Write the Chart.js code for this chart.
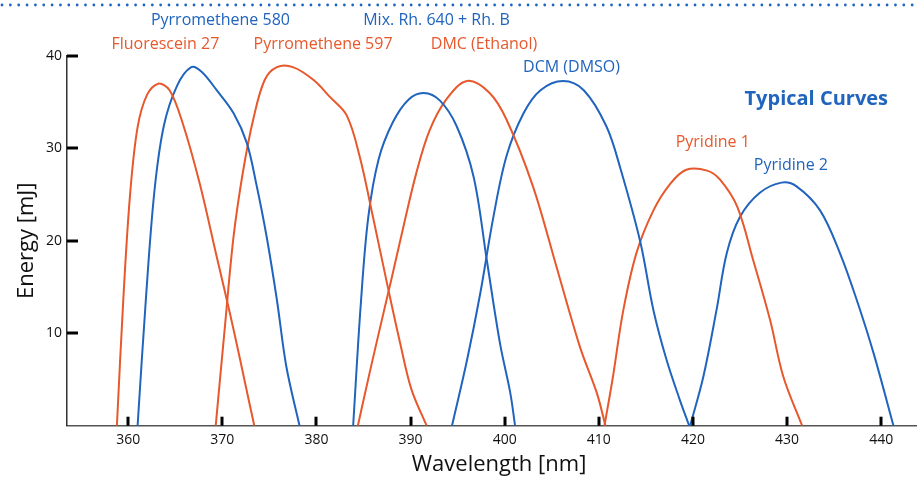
<!DOCTYPE html>
<html lang="en">
<head>
    <meta charset="UTF-8">
    <title>Typical Curves</title>
    <script src="https://cdn.jsdelivr.net/npm/chart.js"></script>
    <style>
        body { margin: 0; background: #fff; }
        #wrap { position: relative; width: 917px; height: 480px; }
    </style>
</head>
<body>
<div id="wrap"><canvas id="myChart" width="917" height="480"></canvas></div>

<script>
    // tick values
    const xTicks = [360, 370, 380, 390, 400, 410, 420, 430, 440];
    const yTicks = [10, 20, 30, 40];

    // curves: wavelength [nm] / energy [mJ]
    const fluorWl = [358.8, 359.5, 360.2, 361.0, 362.0, 363.2, 364.4, 365.8, 367.6, 369.4, 370.8, 371.9, 372.8, 373.4];
    const fluorE  = [0, 14, 25, 32.3, 35.8, 37.0, 36.3, 32.7, 26.2, 18.3, 12.2, 7.1, 2.8, 0];

    const pm580Wl = [361.0, 361.9, 362.8, 363.8, 365.2, 366.7, 367.8, 369.4, 371.2, 372.6, 373.6, 374.7, 375.8, 376.8, 378.2];
    const pm580E  = [0, 14, 25.5, 32.5, 36.8, 38.8, 38.3, 36.3, 33.8, 30.6, 26.2, 20.5, 13.6, 6.4, 0];

    const pm597Wl = [369.3, 370.3, 371.2, 372.2, 373.3, 374.5, 375.8, 377.5, 379.7, 381.4, 383.2, 384.6, 386.0, 387.5, 388.9, 390.1, 391.7];
    const pm597E  = [0, 11, 20.5, 27.5, 33.2, 37.4, 38.8, 38.8, 37.4, 35.6, 33.6, 29.1, 22.6, 15.4, 8.9, 3.9, 0];

    const mixWl = [383.9, 384.7, 385.5, 386.6, 388.1, 389.8, 391.4, 393.1, 394.9, 396.7, 398.1, 399.5, 400.6, 401.1];
    const mixE  = [0, 13, 22.5, 28.8, 32.8, 35.3, 36.0, 35.2, 32.4, 26.9, 17.9, 8.9, 3.5, 0];

    const dmcWl = [384.4, 385.6, 386.8, 388.0, 389.3, 390.6, 392.0, 393.8, 396.0, 398.4, 400.2, 403.0, 405.5, 408.0, 409.8, 410.7];
    const dmcE  = [0, 5.5, 10.8, 16.0, 21.8, 27.3, 31.9, 35.3, 37.3, 36.0, 33.1, 25.9, 17.2, 8.5, 3.5, 0];

    const dcmWl = [394.4, 396.0, 397.4, 398.8, 400.2, 402.0, 403.8, 406.2, 408.4, 410.8, 412.3, 414.4, 415.8, 417.2, 418.6, 419.6];
    const dcmE  = [0, 7.1, 14.3, 22.6, 29.2, 33.8, 36.3, 37.3, 36.3, 32.4, 27.8, 19.9, 12.5, 7.1, 2.8, 0];

    const pyr1Wl = [410.6, 411.5, 412.6, 414.0, 415.8, 417.6, 419.3, 421.5, 422.9, 424.7, 426.4, 428.2, 429.6, 431.6];
    const pyr1E  = [0, 5.3, 12.5, 18.7, 23.3, 26.2, 27.7, 27.6, 26.6, 23.7, 17.9, 11.4, 5.3, 0];

    const pyr2Wl = [419.7, 421.1, 422.5, 423.6, 425.0, 427.1, 429.4, 431.0, 433.5, 435.6, 437.4, 439.2, 441.3];
    const pyr2E  = [0, 5.3, 12.5, 18.7, 22.6, 25.2, 26.3, 25.9, 23.3, 18.7, 13.6, 7.8, 0];

    // curve names and where their labels sit (wavelength, energy)
    const names  = ['Fluorescein 27', 'Pyrromethene 580', 'Pyrromethene 597', 'Mix. Rh. 640 + Rh. B', 'DMC (Ethanol)', 'DCM (DMSO)', 'Pyridine 1', 'Pyridine 2'];
    const labelX = [363.95, 369.8, 380.7, 392.75, 397.8, 407.1, 422.1, 430.4];
    const labelY = [41.2, 43.9, 41.2, 43.9, 41.2, 38.8, 30.7, 28.2];

    var laranja = 'rgb(231, 88, 44)';
    var azul = 'rgb(32, 100, 190)';
    var cores = [laranja, azul, laranja, azul, laranja, azul, laranja, azul];

    var curvas = [
        [fluorWl, fluorE], [pm580Wl, pm580E], [pm597Wl, pm597E], [mixWl, mixE],
        [dmcWl, dmcE], [dcmWl, dcmE], [pyr1Wl, pyr1E], [pyr2Wl, pyr2E]
    ];

    var datasets = curvas.map(function (c, i) {
        return {
            label: names[i],
            data: c[0].map(function (x, j) { return { x: x, y: c[1][j] }; }),
            borderColor: cores[i],
            borderWidth: 2,
            pointRadius: 0,
            fill: false,
            tension: 0.35
        };
    });

    const FONTE = "'Open Sans', 'Noto Sans', sans-serif";

    // labels, tick marks and the dotted line at the top
    const extras = {
        id: 'extras',
        afterDatasetsDraw(chart) {
            const ctx = chart.ctx;
            const xs = chart.scales.x, ys = chart.scales.y;
            ctx.save();

            // tick marks on the inside of the axes
            ctx.fillStyle = '#000';
            xTicks.forEach(function (v) {
                const px = xs.getPixelForValue(v);
                ctx.fillRect(Math.round(px) - 1.5, ys.bottom - 9, 3, 9);
            });
            yTicks.forEach(function (v) {
                const py = ys.getPixelForValue(v);
                ctx.fillRect(xs.left, Math.round(py) - 1.5, 11, 3);
            });

            // curve names
            ctx.font = '16px ' + FONTE;
            ctx.textAlign = 'center';
            ctx.textBaseline = 'middle';
            names.forEach(function (n, i) {
                ctx.fillStyle = cores[i];
                ctx.fillText(n, xs.getPixelForValue(labelX[i]), ys.getPixelForValue(labelY[i]));
            });

            ctx.font = 'bold 20px ' + FONTE;
            ctx.fillStyle = azul;
            ctx.fillText('Typical Curves', xs.getPixelForValue(433.1), ys.getPixelForValue(35.3));

            // x axis title, a bit right of the plot centre like the original
            ctx.font = '22px ' + FONTE;
            ctx.fillStyle = '#111';
            ctx.fillText('Wavelength [nm]', xs.getPixelForValue(399.4), 465);

            // dotted rule
            ctx.fillStyle = azul;
            for (let x = 2; x < chart.width; x += 8.35) {
                ctx.beginPath();
                ctx.arc(x, 5, 1.4, 0, Math.PI * 2);
                ctx.fill();
            }
            ctx.restore();
        }
    };

    const config = {
        type: 'line',
        data: { datasets: datasets },
        options: {
            responsive: false,
            animation: false,
            layout: { padding: { top: 56, left: 0, right: 0, bottom: 0 } },
            plugins: {
                legend: { display: false },
                tooltip: { enabled: false }
            },
            scales: {
                x: {
                    type: 'linear',
                    min: 353.5,
                    max: 443.8,
                    afterBuildTicks: function (s) { s.ticks = xTicks.map(function (v) { return { value: v }; }); },
                    afterFit: function (s) { s.height = 54.3; },
                    grid: { display: false, drawTicks: false },
                    border: { display: true, color: '#555', width: 1.5 },
                    ticks: { padding: 6, color: '#111', font: { family: FONTE, size: 14 } }
                },
                y: {
                    type: 'linear',
                    min: 0,
                    max: 40,
                    afterBuildTicks: function (s) { s.ticks = yTicks.map(function (v) { return { value: v }; }); },
                    afterFit: function (s) { s.width = 67; },
                    grid: { display: false, drawTicks: false },
                    border: { display: true, color: '#333', width: 1.5 },
                    ticks: { padding: 5, color: '#111', font: { family: FONTE, size: 14 } },
                    title: {
                        display: true,
                        text: 'Energy [mJ]',
                        color: '#111',
                        font: { family: FONTE, size: 22 },
                        padding: { top: 14, bottom: 0 }
                    }
                }
            }
        },
        plugins: [extras]
    };

    const myChart = new Chart(document.getElementById('myChart'), config);
</script>
</body>
</html>
